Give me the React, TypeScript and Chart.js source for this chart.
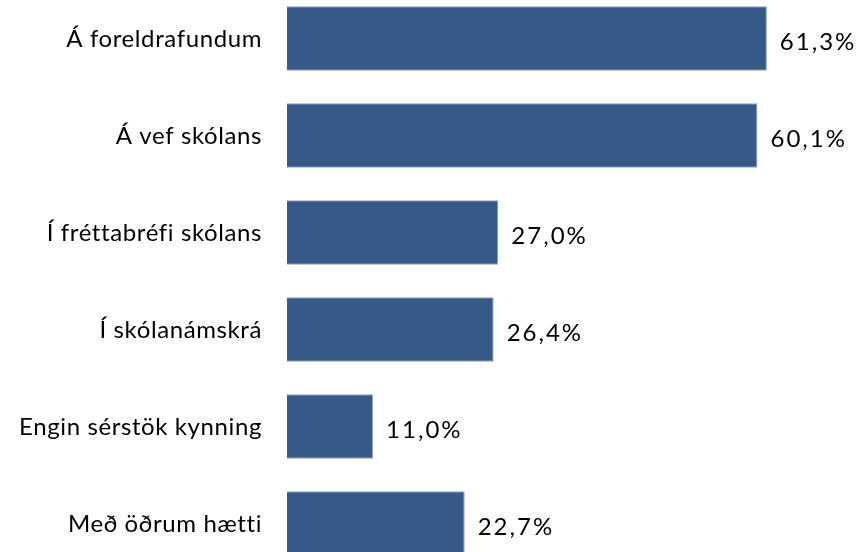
import React, { useEffect, useRef } from "react";
import { Chart, registerables } from "chart.js";

Chart.register(...registerables);

const categories: string[] = [
  "Á foreldrafundum",
  "Á vef skólans",
  "Í fréttabréfi skólans",
  "Í skólanámskrá",
  "Engin sérstök kynning",
  "Með öðrum hætti",
];
const values: number[] = [61.3, 60.1, 27.0, 26.4, 11.0, 22.7];

const FONT = "Lato, Carlito, Calibri, sans-serif";
const FONT_SIZE = 24;

const textPlugin = {
  id: "textPlugin",
  afterDatasetsDraw(chart: any) {
    const ctx = chart.ctx;
    const meta = chart.getDatasetMeta(0);
    const left = chart.chartArea.left;
    ctx.save();
    ctx.font = `${FONT_SIZE}px ${FONT}`;
    ctx.fillStyle = "#000000";
    ctx.textBaseline = "alphabetic";
    meta.data.forEach((bar: any, i: number) => {
      ctx.textAlign = "right";
      (ctx as any).letterSpacing = "0.6px";
      ctx.fillText(categories[i], left - 25, bar.y + 8.5);
      ctx.textAlign = "left";
      (ctx as any).letterSpacing = "2px";
      const txt = values[i].toFixed(1).replace(".", ",") + "%";
      ctx.fillText(txt, bar.x + 13, bar.y + 11.5);
    });
    ctx.restore();
  },
};

export default function App() {
  const ref = useRef<HTMLCanvasElement>(null);
  useEffect(() => {
    if (!ref.current) return;
    const chart = new Chart(ref.current, {
      type: "bar",
      data: {
        labels: categories,
        datasets: [
          {
            data: values,
            backgroundColor: "#365a87",
            borderColor: "#8aa3c6",
            borderWidth: 1,
            categoryPercentage: 1,
            barPercentage: 0.667,
          },
        ],
      },
      options: {
        indexAxis: "y",
        animation: false,
        responsive: false,
        layout: { padding: { left: 287, right: 0, top: 0, bottom: 0 } },
        plugins: {
          legend: { display: false },
          tooltip: { enabled: false },
        },
        scales: {
          x: {
            display: false,
            min: 0,
            max: 73.2,
          },
          y: {
            display: false,
          },
        },
      },
      plugins: [textPlugin],
    });
    return () => chart.destroy();
  }, []);
  return (
    <div
      style={{
        position: "fixed",
        left: 0,
        top: 0,
        width: 860,
        height: 552,
        overflow: "hidden",
        background: "#ffffff",
      }}
    >
      <canvas
        ref={ref}
        width={860}
        height={582}
        style={{ position: "absolute", left: 0, top: -10, width: 860, height: 582 }}
      />
    </div>
  );
}
